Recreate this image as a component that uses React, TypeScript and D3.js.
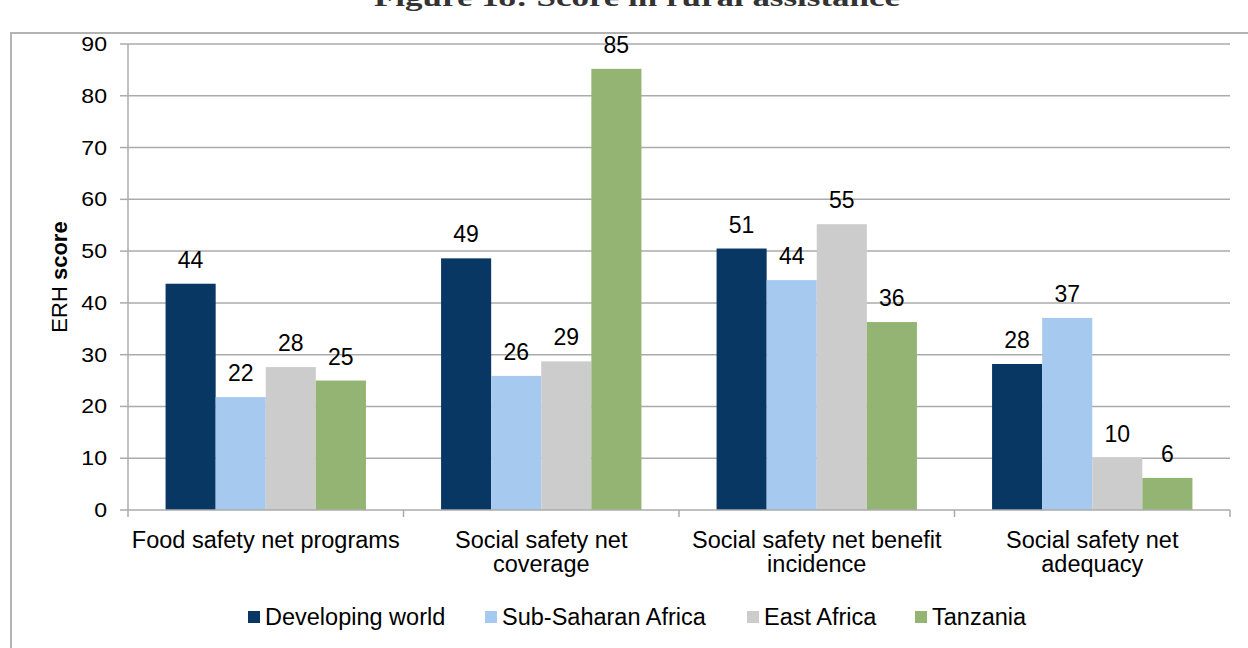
import React from "react";
import * as d3 from "d3";

const categories: string[][] = [
  ["Food safety net programs"],
  ["Social safety net", "coverage"],
  ["Social safety net benefit", "incidence"],
  ["Social safety net", "adequacy"],
];
const seriesNames = ["Developing world", "Sub-Saharan Africa", "East Africa", "Tanzania"];
const seriesColors = ["#083764", "#A6C9F0", "#CCCCCC", "#93B473"];
const developingWorld = [43.7, 48.6, 50.5, 28.2];
const subSaharanAfrica = [21.8, 25.9, 44.4, 37.1];
const eastAfrica = [27.6, 28.7, 55.2, 10.1];
const tanzania = [25.0, 85.2, 36.3, 6.2];
const yTicks = [0, 10, 20, 30, 40, 50, 60, 70, 80, 90];
const legendX = [248, 485, 747, 915];

const series = [developingWorld, subSaharanAfrica, eastAfrica, tanzania];

export default function App() {
  const W = 1248, H = 648;
  const left = 128, right = 1230, top = 44, bottom = 510;
  const font = "'Liberation Sans', Arial, sans-serif";
  const y = d3.scaleLinear().domain([0, 90]).range([bottom, top]);
  const x0 = d3.scaleBand<number>().domain(d3.range(categories.length)).range([left, right]).padding(0);
  const x1 = d3.scaleBand<number>().domain(d3.range(series.length)).range([0, x0.bandwidth()]).paddingInner(0).paddingOuter(0.75);
  const grid = "#ABABAB";
  return (
    <div style={{ position: "absolute", left: 0, top: 0, width: W, height: H, overflow: "hidden" }}>
      <svg width={W} height={H} style={{ display: "block", background: "#fff" }}>
        <rect x={0} y={0} width={W} height={H} fill="#fff" />
        <text x={637} y={6} textAnchor="middle" fontFamily="'Liberation Serif', 'DejaVu Serif', serif" fontWeight="bold" fontSize={26} fill="#333" textLength={526} lengthAdjust="spacingAndGlyphs">
          Figure 18: Score in rural assistance
        </text>
        <path d={`M11,${H + 5} V33 H${W + 5}`} fill="none" stroke="#B3B3B3" strokeWidth={2} />
        {yTicks.map((t) => (
          <g key={t}>
            {t > 0 && <line x1={left} x2={right} y1={y(t)} y2={y(t)} stroke={grid} strokeWidth={1.5} />}
            <line x1={left - 8} x2={left} y1={y(t)} y2={y(t)} stroke={grid} strokeWidth={1.5} />
            <text x={107} y={y(t) + 7} textAnchor="end" fontFamily={font} fontSize={21} fill="#000" transform={`translate(107 0) scale(1.1 1) translate(-107 0)`}>
              {t}
            </text>
          </g>
        ))}
        <line x1={left} x2={left} y1={top} y2={bottom} stroke={grid} strokeWidth={1.5} />
        {categories.map((c, i) => {
          const cx = x0(i)! + x0.bandwidth() / 2;
          return (
            <g key={i}>
              {series.map((s, j) => (
                <g key={j}>
                  <rect x={x0(i)! + x1(j)!} y={y(s[i])} width={x1.bandwidth()} height={bottom - y(s[i])} fill={seriesColors[j]} />
                  <text x={x0(i)! + x1(j)! + x1.bandwidth() / 2} y={y(s[i]) - 16} textAnchor="middle" fontFamily={font} fontSize={23} fill="#000">
                    {Math.round(s[i])}
                  </text>
                </g>
              ))}
              {c.map((line, k) => (
                <text key={k} x={cx} y={548 + k * 24} textAnchor="middle" fontFamily={font} fontSize={23.5} fill="#000">
                  {line}
                </text>
              ))}
            </g>
          );
        })}
        <line x1={left} x2={right} y1={bottom} y2={bottom} stroke={grid} strokeWidth={1.5} />
        {d3.range(categories.length + 1).map((i) => {
          const xx = left + i * x0.bandwidth();
          return <line key={i} x1={xx} x2={xx} y1={bottom} y2={bottom + 7} stroke={grid} strokeWidth={1.5} />;
        })}
        <text transform={`translate(67 ${(top + bottom) / 2}) rotate(-90)`} textAnchor="middle" fontFamily={font} fontSize={22} fill="#000">
          ERH <tspan fontWeight="bold">score</tspan>
        </text>
        {seriesNames.map((n, j) => (
          <g key={n}>
            <rect x={legendX[j]} y={611} width={12} height={12} fill={seriesColors[j]} />
            <text x={legendX[j] + 17} y={625} fontFamily={font} fontSize={23.5} fill="#000">
              {n}
            </text>
          </g>
        ))}
      </svg>
    </div>
  );
}
